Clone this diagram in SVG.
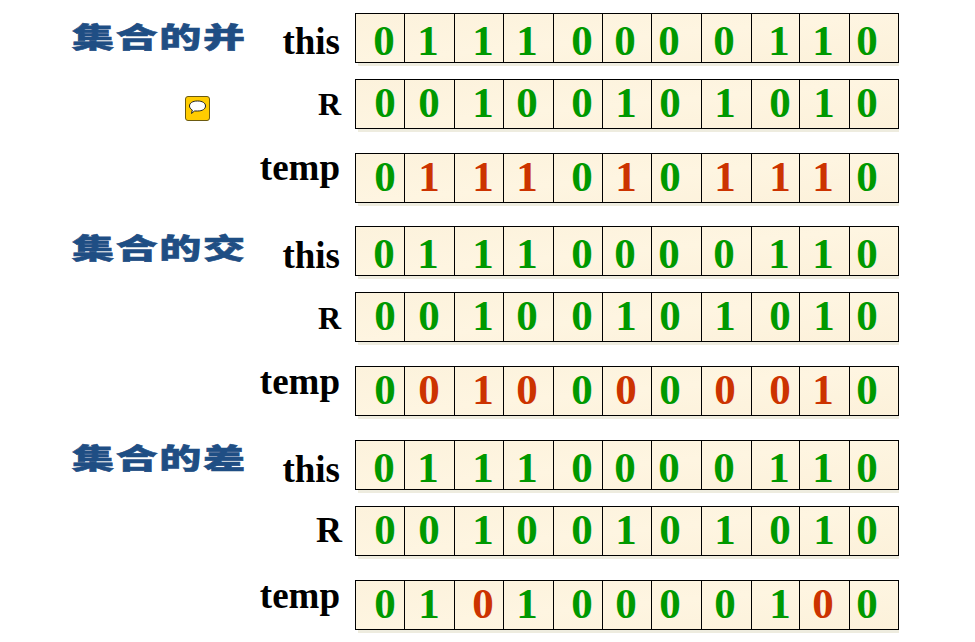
<svg xmlns="http://www.w3.org/2000/svg" width="975" height="642" viewBox="0 0 975 642">
<style>
text{font-family:"Liberation Serif","Noto Sans CJK SC",serif;font-weight:700}
.g{font-size:43px;fill:#009900;text-anchor:middle}
.r{font-size:43px;fill:#cc3300;text-anchor:middle}
.l{fill:#000;text-anchor:end}
.t{font-family:"Noto Sans CJK SC",sans-serif;font-weight:900;font-size:28px;letter-spacing:1.1px;fill:#1f4e84;stroke:#1f4e84;stroke-width:.6px}
.s{fill:#eeecdf}
.c{fill:url(#p);stroke:#000;stroke-width:1}
.v{stroke:#000;stroke-width:1;fill:none}
</style>
<defs>
<linearGradient id="p" x1="0" y1="0" x2="1" y2="1"><stop offset="0" stop-color="#fcf2dc"/><stop offset=".5" stop-color="#fef5e1"/><stop offset="1" stop-color="#fcf1da"/></linearGradient>
<g id="grid">
<rect class="s" x="358" y="4" width="541" height="49"/>
<rect class="c" x="355.500" y=".5" width="543" height="49"/>
<path class="v" d="M404.500 .5V49.500M454.500 .5V49.500M503.500 .5V49.500M553.500 .5V49.500M602.500 .5V49.500M651.500 .5V49.500M701.500 .5V49.500M751.500 .5V49.500M799.500 .5V49.500M849.500 .5V49.500"/>
</g>
</defs>
<g id="title-union"><text class="t" transform="translate(72 48) scale(1.5 1)">集合的并</text></g>
<g id="title-intersection"><text class="t" transform="translate(72 259) scale(1.5 1)">集合的交</text></g>
<g id="title-difference"><text class="t" transform="translate(72 469) scale(1.5 1)">集合的差</text></g>
<g id="note-icon">
<rect x="185.500" y="96.500" width="24" height="24" rx="2.500" fill="#ffcc00" stroke="#6b5a10"/>
<path d="M197.500 101c5 0 8 2 8 5s-3 5-8 5c-1 0-2 0-3 0l-3 2.500 .8-3.500c-1.800-1-2.800-2.500-2.800-4 0-3 3-5 8-5z" fill="#fff" stroke="#222"/>
</g>
<g id="row-union-this">
<use href="#grid" y="13"/>
<text class="l" x="340" y="54" font-size="37px">this</text>
<text class="g" x="384" y="55">0</text><text class="g" x="428" y="55">1</text><text class="g" x="483" y="55">1</text><text class="g" x="527" y="55">1</text><text class="g" x="582" y="55">0</text><text class="g" x="625" y="55">0</text><text class="g" x="669" y="55">0</text><text class="g" x="724" y="55">0</text><text class="g" x="779" y="55">1</text><text class="g" x="823" y="55">1</text><text class="g" x="867" y="55">0</text>
</g>
<g id="row-union-r">
<use href="#grid" y="79"/>
<text class="l" x="341" y="115" font-size="32px">R</text>
<text class="g" x="385" y="117">0</text><text class="g" x="429" y="117">0</text><text class="g" x="483" y="117">1</text><text class="g" x="527" y="117">0</text><text class="g" x="582" y="117">0</text><text class="g" x="626" y="117">1</text><text class="g" x="670" y="117">0</text><text class="g" x="725" y="117">1</text><text class="g" x="780" y="117">0</text><text class="g" x="824" y="117">1</text><text class="g" x="867" y="117">0</text>
</g>
<g id="row-union-temp">
<use href="#grid" y="153"/>
<text class="l" x="340" y="180" font-size="37px">temp</text>
<text class="g" x="385" y="191">0</text><text class="r" x="429" y="191">1</text><text class="r" x="483" y="191">1</text><text class="r" x="527" y="191">1</text><text class="g" x="582" y="191">0</text><text class="r" x="626" y="191">1</text><text class="g" x="670" y="191">0</text><text class="r" x="725" y="191">1</text><text class="r" x="780" y="191">1</text><text class="r" x="823" y="191">1</text><text class="g" x="867" y="191">0</text>
</g>
<g id="row-intersection-this">
<use href="#grid" y="226"/>
<text class="l" x="340" y="268" font-size="37px">this</text>
<text class="g" x="384" y="268">0</text><text class="g" x="428" y="268">1</text><text class="g" x="483" y="268">1</text><text class="g" x="527" y="268">1</text><text class="g" x="582" y="268">0</text><text class="g" x="625" y="268">0</text><text class="g" x="669" y="268">0</text><text class="g" x="724" y="268">0</text><text class="g" x="779" y="268">1</text><text class="g" x="823" y="268">1</text><text class="g" x="867" y="268">0</text>
</g>
<g id="row-intersection-r">
<use href="#grid" y="292"/>
<text class="l" x="341" y="329" font-size="32px">R</text>
<text class="g" x="385" y="330">0</text><text class="g" x="429" y="330">0</text><text class="g" x="483" y="330">1</text><text class="g" x="527" y="330">0</text><text class="g" x="582" y="330">0</text><text class="g" x="626" y="330">1</text><text class="g" x="670" y="330">0</text><text class="g" x="725" y="330">1</text><text class="g" x="780" y="330">0</text><text class="g" x="824" y="330">1</text><text class="g" x="867" y="330">0</text>
</g>
<g id="row-intersection-temp">
<use href="#grid" y="366"/>
<text class="l" x="340" y="394" font-size="37px">temp</text>
<text class="g" x="385" y="404">0</text><text class="r" x="429" y="404">0</text><text class="r" x="483" y="404">1</text><text class="r" x="527" y="404">0</text><text class="g" x="582" y="404">0</text><text class="r" x="626" y="404">0</text><text class="g" x="670" y="404">0</text><text class="r" x="725" y="404">0</text><text class="r" x="780" y="404">0</text><text class="r" x="823" y="404">1</text><text class="g" x="867" y="404">0</text>
</g>
<g id="row-difference-this">
<use href="#grid" y="440"/>
<text class="l" x="340" y="482" font-size="37px">this</text>
<text class="g" x="384" y="482">0</text><text class="g" x="428" y="482">1</text><text class="g" x="483" y="482">1</text><text class="g" x="527" y="482">1</text><text class="g" x="582" y="482">0</text><text class="g" x="625" y="482">0</text><text class="g" x="669" y="482">0</text><text class="g" x="724" y="482">0</text><text class="g" x="779" y="482">1</text><text class="g" x="823" y="482">1</text><text class="g" x="867" y="482">0</text>
</g>
<g id="row-difference-r">
<use href="#grid" y="506"/>
<text class="l" x="342" y="542" font-size="36px">R</text>
<text class="g" x="385" y="544">0</text><text class="g" x="429" y="544">0</text><text class="g" x="483" y="544">1</text><text class="g" x="527" y="544">0</text><text class="g" x="582" y="544">0</text><text class="g" x="626" y="544">1</text><text class="g" x="670" y="544">0</text><text class="g" x="725" y="544">1</text><text class="g" x="780" y="544">0</text><text class="g" x="824" y="544">1</text><text class="g" x="867" y="544">0</text>
</g>
<g id="row-difference-temp">
<use href="#grid" y="580"/>
<text class="l" x="340" y="608" font-size="37px">temp</text>
<text class="g" x="385" y="618">0</text><text class="g" x="429" y="618">1</text><text class="r" x="483" y="618">0</text><text class="g" x="527" y="618">1</text><text class="g" x="582" y="618">0</text><text class="g" x="626" y="618">0</text><text class="g" x="670" y="618">0</text><text class="g" x="725" y="618">0</text><text class="g" x="780" y="618">1</text><text class="r" x="823" y="618">0</text><text class="g" x="867" y="618">0</text>
</g>
</svg>
